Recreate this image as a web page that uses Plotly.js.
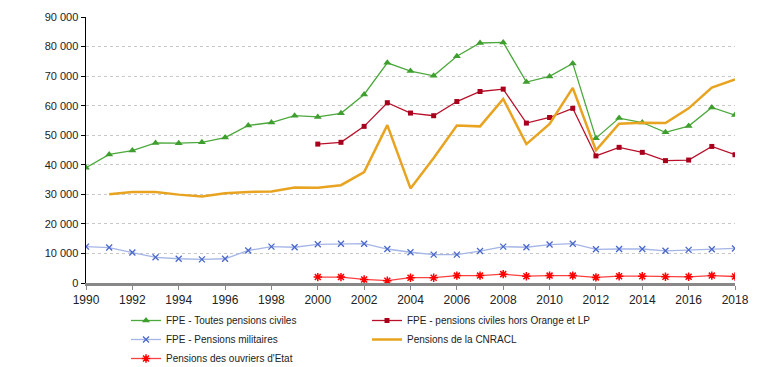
<!DOCTYPE html>
<html><head><meta charset="utf-8">
<script src="https://cdn.plot.ly/plotly-3.0.1.min.js"></script>
<style>body{margin:0;background:#fff}#c{width:762px;height:367px}</style>
</head><body><div id="c"></div>
<script>
const years = [1990,1991,1992,1993,1994,1995,1996,1997,1998,1999,2000,2001,2002,2003,2004,2005,2006,2007,2008,2009,2010,2011,2012,2013,2014,2015,2016,2017,2018];
const years2000 = years.slice(10);
const years1991 = years.slice(1);
const toutesCiviles = [39000,43500,44800,47400,47300,47600,49200,53300,54300,56600,56200,57400,63800,74500,71700,70100,76700,81200,81400,68000,69900,74300,49000,55800,54300,51000,53100,59400,56800];
const horsOrange = [47000,47600,53000,61000,57500,56600,61400,64800,65600,54100,56000,59100,43000,45900,44200,41400,41600,46200,43400];
const militaires = [12300,12000,10300,8700,8200,8000,8200,11000,12300,12100,13100,13300,13300,11500,10400,9600,9600,10800,12300,12100,13000,13300,11400,11500,11500,10900,11200,11400,11700];
const cnracl = [30000,30800,30800,29900,29300,30400,30800,31000,32300,32200,33100,37500,53400,32000,42300,53300,53000,62300,47000,53800,66000,44900,53900,54200,54100,59100,66100,68900];
const ouvriers = [2000,2000,1200,800,1800,1800,2500,2500,3000,2300,2500,2500,1900,2300,2300,2100,2100,2500,2200];
const seriesNames = ["FPE - Toutes pensions civiles","FPE - pensions civiles hors Orange et LP","FPE - Pensions militaires","Pensions de la CNRACL","Pensions des ouvriers d'Etat"];
const yTickVals = [0,10000,20000,30000,40000,50000,60000,70000,80000,90000];
const yTickText = ["0","10 000","20 000","30 000","40 000","50 000","60 000","70 000","80 000","90 000"];
const xTickVals = [1990,1992,1994,1996,1998,2000,2002,2004,2006,2008,2010,2012,2014,2016,2018];

const traces = [
 {x:years,y:toutesCiviles,name:seriesNames[0],mode:'lines+markers',line:{color:'#4CA83C',width:1.3},marker:{symbol:'triangle-up',size:7,color:'#3E9E2E'}},
 {x:years2000,y:horsOrange,name:seriesNames[1],mode:'lines+markers',line:{color:'#B8102A',width:1.3},marker:{symbol:'square',size:5,color:'#A8001C'}},
 {x:years,y:militaires,name:seriesNames[2],mode:'lines+markers',line:{color:'#A4B5E6',width:1.3},marker:{symbol:'x-thin-open',size:6,color:'#4A68CC',line:{width:1.3,color:'#4A68CC'}}},
 {x:years1991,y:cnracl,name:seriesNames[3],mode:'lines',line:{color:'#E8A320',width:2.5}},
 {x:years2000,y:ouvriers,name:seriesNames[4],mode:'lines+markers',line:{color:'#FF4040',width:1.3},marker:{symbol:'asterisk-open',size:7,color:'#FF0000',line:{width:1.5,color:'#FF0000'}}}
];
const layout = {
 width:762,height:367,
 margin:{l:86,r:27,t:17,b:84},
 paper_bgcolor:'#fff',plot_bgcolor:'#fff',
 font:{family:'Liberation Sans, Arial, sans-serif',size:11,color:'#222'},
 showlegend:true,
 legend:{orientation:'h',xref:'container',yref:'container',x:126/762,xanchor:'left',y:(367-306)/367,yanchor:'top',entrywidth:196,font:{size:10,color:'#222'},itemwidth:30,tracegroupgap:0,traceorder:'normal',bgcolor:'rgba(0,0,0,0)'},
 xaxis:{range:[1990,2018],tickvals:xTickVals,showgrid:false,zeroline:false,showline:true,linecolor:'#888',linewidth:2.5,ticks:'outside',ticklen:4,tickcolor:'#888',tickfont:{size:12}},
 yaxis:{range:[0,90000],tickvals:yTickVals,ticktext:yTickText,showgrid:true,gridcolor:'#c8c8c8',griddash:'dot',gridwidth:1,zeroline:false,showline:true,linecolor:'#000',linewidth:1.5,ticks:'outside',ticklen:4,tickcolor:'#000',tickfont:{size:11}}
};
Plotly.newPlot('c',traces,layout,{displayModeBar:false,staticPlot:true});
</script></body></html>
